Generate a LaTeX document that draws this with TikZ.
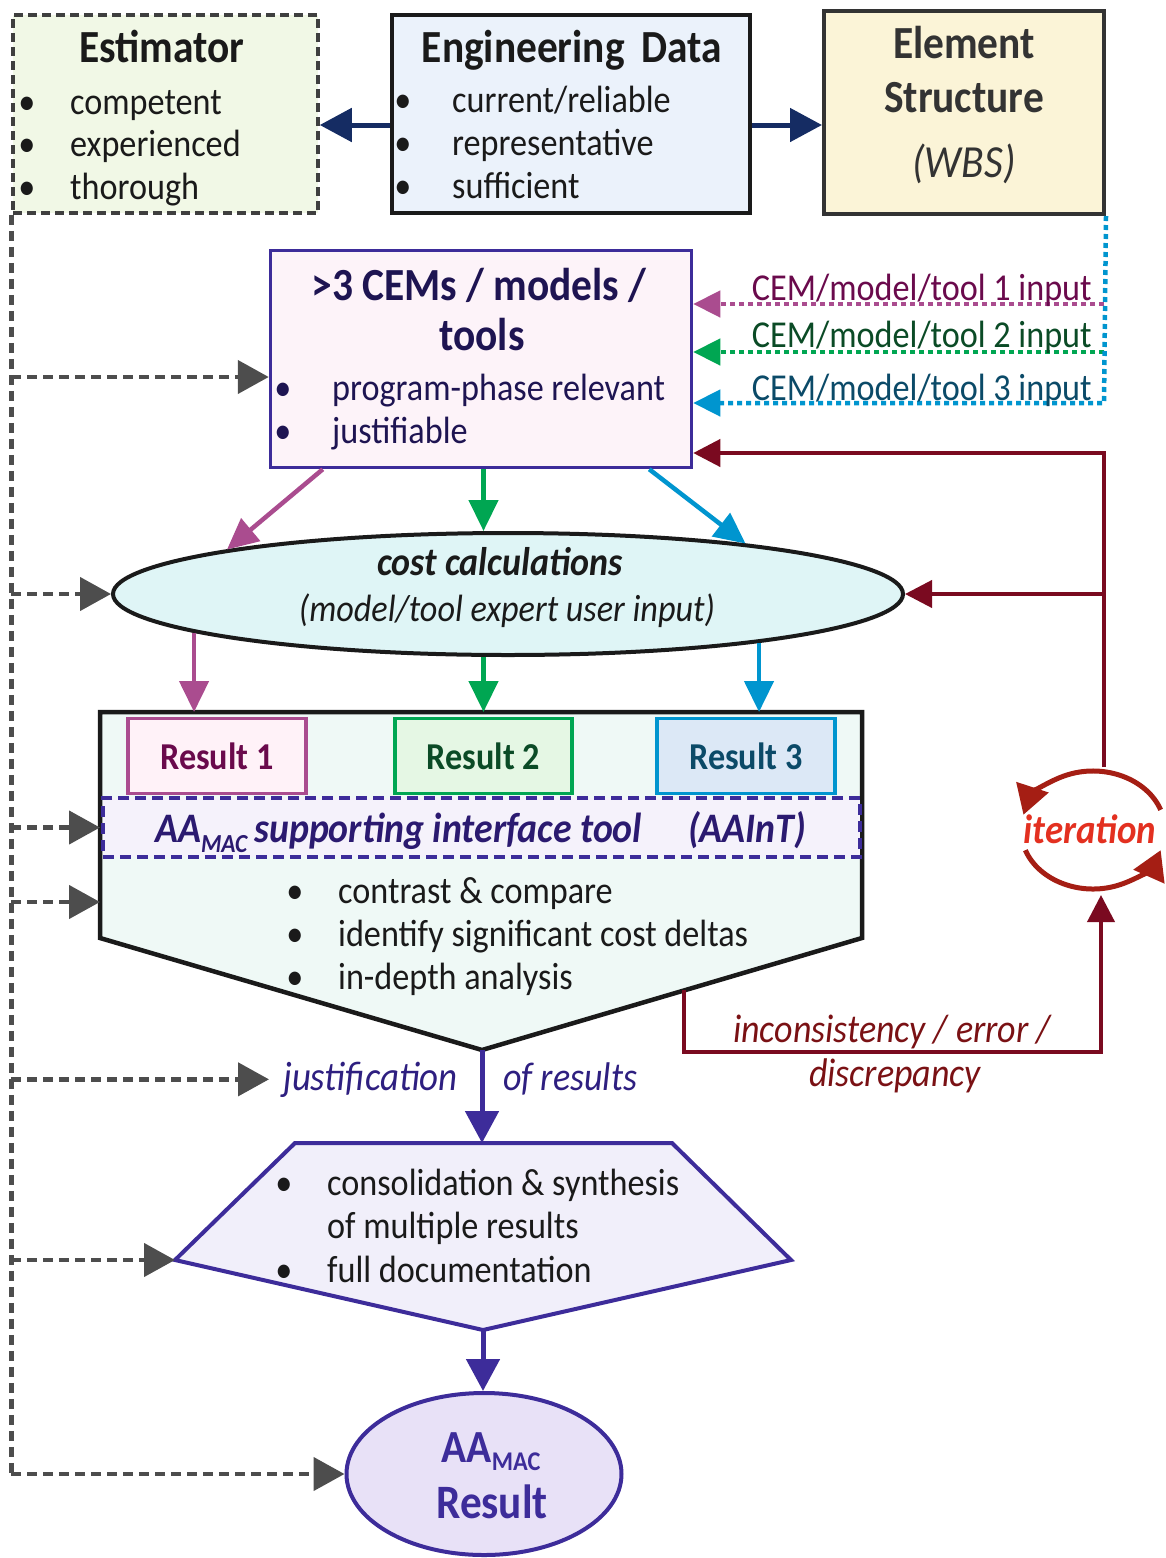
\documentclass[tikz,border=0pt]{standalone}
\usepackage{fontspec}
\setmainfont{Carlito}[FakeStretch=0.9]
\usetikzlibrary{arrows.meta,shapes.geometric,calc}

% palette
\definecolor{cgray}{HTML}{4D4D4D}
\definecolor{ink}{HTML}{1A1A1A}
\definecolor{estfill}{HTML}{F1F8E6}
\definecolor{estline}{HTML}{3F3F3F}
\definecolor{engfill}{HTML}{EBF2FB}
\definecolor{wbsfill}{HTML}{FBF4D7}
\definecolor{wbsline}{HTML}{333333}
\definecolor{navy}{HTML}{152C63}
\definecolor{cemline}{HTML}{3D2C9A}
\definecolor{cemfill}{HTML}{FDF3F9}
\definecolor{cemtext}{HTML}{1E1452}
\definecolor{mag}{HTML}{AA4C8F}
\definecolor{magtext}{HTML}{6A0A4C}
\definecolor{rafill}{HTML}{FFF2F8}
\definecolor{grn}{HTML}{00A652}
\definecolor{grntext}{HTML}{0B4B26}
\definecolor{rbfill}{HTML}{E5F7E4}
\definecolor{blu}{HTML}{0095CF}
\definecolor{blutext}{HTML}{0B4A68}
\definecolor{rcfill}{HTML}{DCE8F6}
\definecolor{dred}{HTML}{7A0A20}
\definecolor{itred}{HTML}{E33020}
\definecolor{arcred}{HTML}{A51E14}
\definecolor{calcfill}{HTML}{DFF5F6}
\definecolor{pentfill}{HTML}{EFF9F6}
\definecolor{aaifill}{HTML}{F5F2FB}
\definecolor{aaitext}{HTML}{2B1A70}
\definecolor{hexfill}{HTML}{F1EFFA}
\definecolor{finfill}{HTML}{E8E1F7}
\definecolor{justext}{HTML}{2E1F80}
\definecolor{inctext}{HTML}{7A1114}

\newcommand{\fbody}{\fontsize{38}{44}\selectfont}
\newcommand{\ftitle}{\fontsize{46}{52}\selectfont\bfseries}

\begin{document}
\begin{tikzpicture}[x=1pt,y=-1pt,
  box/.style={rectangle, inner sep=0pt},
  item/.style={anchor=base west, inner sep=0pt, font=\fbody},
  dotmark/.style={anchor=base, inner sep=0pt, font=\fbody},
  title/.style={anchor=base, inner sep=0pt, font=\ftitle},
  label/.style={inner sep=0pt, font=\fbody},
  navyarr/.style={draw=navy, line width=5pt, -{Triangle[length=32pt,width=33pt]}},
  colarr/.style={line width=4.5pt, -{Triangle[length=31pt,width=29pt]}},
  indot/.style={line width=4.5pt, dash pattern=on 5pt off 4pt, -{Triangle[length=27pt,width=26pt]}},
  redarr/.style={draw=dred, line width=4pt, -{Triangle[length=27pt,width=27pt]}},
  grayline/.style={draw=cgray, line width=4.5pt, dash pattern=on 10pt off 6pt},
  grayarr/.style={grayline, -{Triangle[length=31pt,width=33pt]}},
  purparr/.style={draw=cemline, line width=5pt, -{Triangle[length=32pt,width=33pt]}},
  iterarr/.style={draw=arcred, line width=5pt, -{Triangle[length=29pt,width=33pt]}},
]
\useasboundingbox (0,0) rectangle (1166,1558);

% ---------- top row ----------
\node[box, draw=estline, line width=3.5pt, dash pattern=on 9pt off 5pt, fill=estfill,
      minimum width=305pt, minimum height=198pt] (est) at (165.5,114) {};
\node[box, draw=ink, line width=4pt, fill=engfill,
      minimum width=358pt, minimum height=198pt] (eng) at (571,114) {};
\node[box, draw=wbsline, line width=4pt, fill=wbsfill,
      minimum width=280pt, minimum height=203pt] (wbs) at (964,112.5) {};

\node[title, text=ink] (est-t) at (162,62) {Estimator};
\foreach \t [count=\i] in {competent,experienced,thorough}{
  \node[dotmark, text=ink] (est-b\i) at (27,{114+42.5*(\i-1)}) {\textbullet};
  \node[item, text=ink] (est-i\i) at (70,{114+42.5*(\i-1)}) {\t};
}
\node[title, text=ink] (eng-t) at (572,62) {Engineering\hspace{17pt}Data};
\foreach \t [count=\i] in {current/reliable,representative,sufficient}{
  \node[dotmark, text=ink] (eng-b\i) at (403,{112+43*(\i-1)}) {\textbullet};
  \node[item, text=ink] (eng-i\i) at (452,{112+43*(\i-1)}) {\t};
}
\node[title, text=wbsline] (wbs-t1) at (964,58) {Element};
\node[title, text=wbsline] (wbs-t2) at (964,112) {Structure};
\node[title, text=wbsline, font=\fontsize{46}{52}\selectfont\itshape] (wbs-t3) at (964,177) {(WBS)};

\coordinate (navY) at (0,125);
\draw[navyarr] (eng.west |- navY) -- (est.east |- navY);
\draw[navyarr] (eng.east |- navY) -- (wbs.west |- navY);

% ---------- models box ----------
\node[box, draw=cemline, line width=3.5pt, fill=cemfill,
      minimum width=421pt, minimum height=217pt] (cem) at (481,359) {};
\node[title, text=cemtext] (cem-t1) at (479,300) {>3 CEMs / models /};
\node[title, text=cemtext] (cem-t2) at (482,350) {tools};
\foreach \t [count=\i] in {program-phase relevant,justifiable}{
  \node[dotmark, text=cemtext] (cem-b\i) at (283,{400+43*(\i-1)}) {\textbullet};
  \node[item, text=cemtext] (cem-i\i) at (332,{400+43*(\i-1)}) {\t};
}

% model inputs
\coordinate (in1) at (1104,304);
\coordinate (in2) at (1104,352);
\coordinate (in3) at (1104,403);
\draw[indot, draw=mag] (in1) -- (cem.east |- in1);
\draw[indot, draw=grn] (in2) -- (cem.east |- in2);
\draw[indot, draw=blu] (wbs.south east) -- (in3) -- (cem.east |- in3);
\node[label, anchor=base east, text=magtext] (in1-l) at (1092,300) {CEM/model/tool 1 input};
\node[label, anchor=base east, text=grntext] (in2-l) at (1092,347) {CEM/model/tool 2 input};
\node[label, anchor=base east, text=blutext] (in3-l) at (1092,400) {CEM/model/tool 3 input};

% ---------- cost calculations ----------
\node[ellipse, draw=ink, line width=4pt, fill=calcfill, inner sep=0pt,
      minimum width=790pt, minimum height=122pt] (calc) at (508,594) {};
\node[label, anchor=base, text=ink, font=\fontsize{40}{46}\selectfont\bfseries\itshape] (calc-t1) at (500,575) {cost calculations};
\node[label, anchor=base, text=ink, font=\fontsize{38}{44}\selectfont\itshape] (calc-t2) at (507,621) {(model/tool expert user input)};

% ---------- comparison block ----------
\coordinate (pentNW) at (100,712);
\coordinate (pentNE) at (862,712);
\coordinate (pentSE) at (862,938);
\coordinate (pentS) at (482,1050);
\coordinate (pentSW) at (100,938);
\coordinate (pentW) at (100,902);
\draw[draw=ink, line width=4.5pt, fill=pentfill, line join=miter]
  (pentNW) -- (pentNE) -- (pentSE) -- (pentS) -- (pentSW) -- cycle;

\node[box, draw=mag, line width=3.5pt, fill=rafill, minimum width=178pt, minimum height=75pt,
      text=magtext, font=\fontsize{38}{44}\selectfont\bfseries] (r1) at (217,756) {Result 1};
\node[box, draw=grn, line width=3.5pt, fill=rbfill, minimum width=177pt, minimum height=75pt,
      text=grntext, font=\fontsize{38}{44}\selectfont\bfseries] (r2) at (483.5,756) {Result 2};
\node[box, draw=blu, line width=3.5pt, fill=rcfill, minimum width=178pt, minimum height=75pt,
      text=blutext, font=\fontsize{38}{44}\selectfont\bfseries] (r3) at (746,756) {Result 3};

\node[box, draw=cemline, line width=3.5pt, dash pattern=on 11pt off 6pt, fill=aaifill,
      minimum width=757pt, minimum height=59pt] (aai) at (481.5,827.5) {};
\node[label, anchor=base west, text=aaitext, font=\fontsize{42}{46}\selectfont\bfseries\itshape] (aai-t) at (155,842)
  {AA\raisebox{-10pt}{\fontsize{26}{26}\selectfont MAC}\,supporting interface tool\hspace{46pt}(AAInT)};

\foreach \t [count=\i] in {contrast \& compare,identify significant cost deltas,in-depth analysis}{
  \node[dotmark, text=ink] (cmp-b\i) at (295,{903+43*(\i-1)}) {\textbullet};
  \node[item, text=ink] (cmp-i\i) at (338,{903+43*(\i-1)}) {\t};
}

% ---------- arrows from models through calculations ----------
\draw[colarr, draw=mag] ([xshift=54pt]cem.south west) -- (calc.171);
\draw[colarr, draw=grn] (cem.south -| r2.north) -- (calc.north -| r2.north);
\draw[colarr, draw=blu] ([xshift=-44pt]cem.south east) -- (calc.12.5);
\draw[colarr, draw=mag] (calc.187.5) -- (calc.187.5 |- pentNW);
\draw[colarr, draw=grn] (calc.south -| r2.north) -- (r2.north |- pentNW);
\draw[colarr, draw=blu] (calc.349.5) -- (calc.349.5 |- pentNW);

% ---------- iteration loop ----------
\coordinate (itc) at (1093,830);
\coordinate (itTop) at (1104,767);
\coordinate (fbTop) at (1104,453);
\coordinate (itBot) at (1101,895);
\coordinate (incLow) at (0,1052);
\coordinate (incA) at ($(pentSE)!0.468!(pentS)$);
\draw[redarr] (itTop) -- (fbTop) -- (cem.east |- fbTop);
\draw[redarr] (itTop |- calc.east) -- (calc.east);
\draw[redarr] (incA) -- (incA |- incLow) -| (itBot);
\node[label, anchor=base, text=inctext, font=\fontsize{40}{44}\selectfont\itshape] (inc-1) at (892,1042) {inconsistency / error /};
\node[label, anchor=base, text=inctext, font=\fontsize{40}{44}\selectfont\itshape] (inc-2) at (895,1086) {discrepancy};

\draw[iterarr] ([shift={(20:72pt and 59pt)}]itc) arc[start angle=20, end angle=165, x radius=72pt, y radius=59pt];
\draw[iterarr] ([shift={(200:72pt and 59pt)}]itc) arc[start angle=200, end angle=340, x radius=72pt, y radius=59pt];
\node[label, anchor=base, text=itred, font=\fontsize{41}{46}\selectfont\bfseries\itshape] (iter) at (1090,843) {iteration};

% ---------- consolidation ----------
\coordinate (hexN) at (482,1143);
\coordinate (hexNW) at (295,1143);
\coordinate (hexNE) at (672,1143);
\coordinate (hexE) at (791,1260);
\coordinate (hexS) at (483,1330);
\coordinate (hexW) at (175,1260);
\draw[draw=cemline, line width=4pt, fill=hexfill, line join=miter]
  (hexNW) -- (hexNE) -- (hexE) -- (hexS) -- (hexW) -- cycle;
\node[dotmark, text=ink] (hex-b1) at (284,1195) {\textbullet};
\node[item, text=ink] (hex-i1) at (327,1195) {consolidation \& synthesis};
\node[item, text=ink] (hex-i2) at (327,1238) {of multiple results};
\node[dotmark, text=ink] (hex-b3) at (284,1282) {\textbullet};
\node[item, text=ink] (hex-i3) at (327,1282) {full documentation};

\node[label, anchor=base west, inner xsep=14pt, text=justext, font=\fontsize{41}{44}\selectfont\itshape] (jus) at (269,1090) {justification};
\node[label, anchor=base west, text=justext, font=\fontsize{40}{44}\selectfont\itshape] (ofr) at (503,1090) {of results};
\draw[purparr] (pentS) -- (hexN);

% ---------- final result ----------
\node[ellipse, draw=cemline, line width=4pt, fill=finfill, inner sep=0pt,
      minimum width=275pt, minimum height=162pt] (fin) at (484,1474) {};
\node[label, anchor=base, text=cemline, font=\ftitle] (fin-t1) at (491,1462)
  {AA\raisebox{-8pt}{\fontsize{27}{27}\selectfont MAC}};
\node[label, anchor=base, text=cemline, font=\fontsize{48}{52}\selectfont\bfseries] (fin-t2) at (492,1518) {Result};
\draw[purparr] (hexS) -- (hexS |- fin.north);

% ---------- estimator involvement ----------
\coordinate (gCem) at ([yshift=-18pt]cem.west);
\coordinate (gAai) at (pentNW |- aai.west);
\draw[grayline] (est.south west) -- (est.south west |- fin.west);
\foreach \tgt in {gCem,calc.west,gAai,pentW,jus.west,hexW,fin.west}
  \draw[grayarr] (est.south west |- \tgt) -- (\tgt);

\end{tikzpicture}
\end{document}
